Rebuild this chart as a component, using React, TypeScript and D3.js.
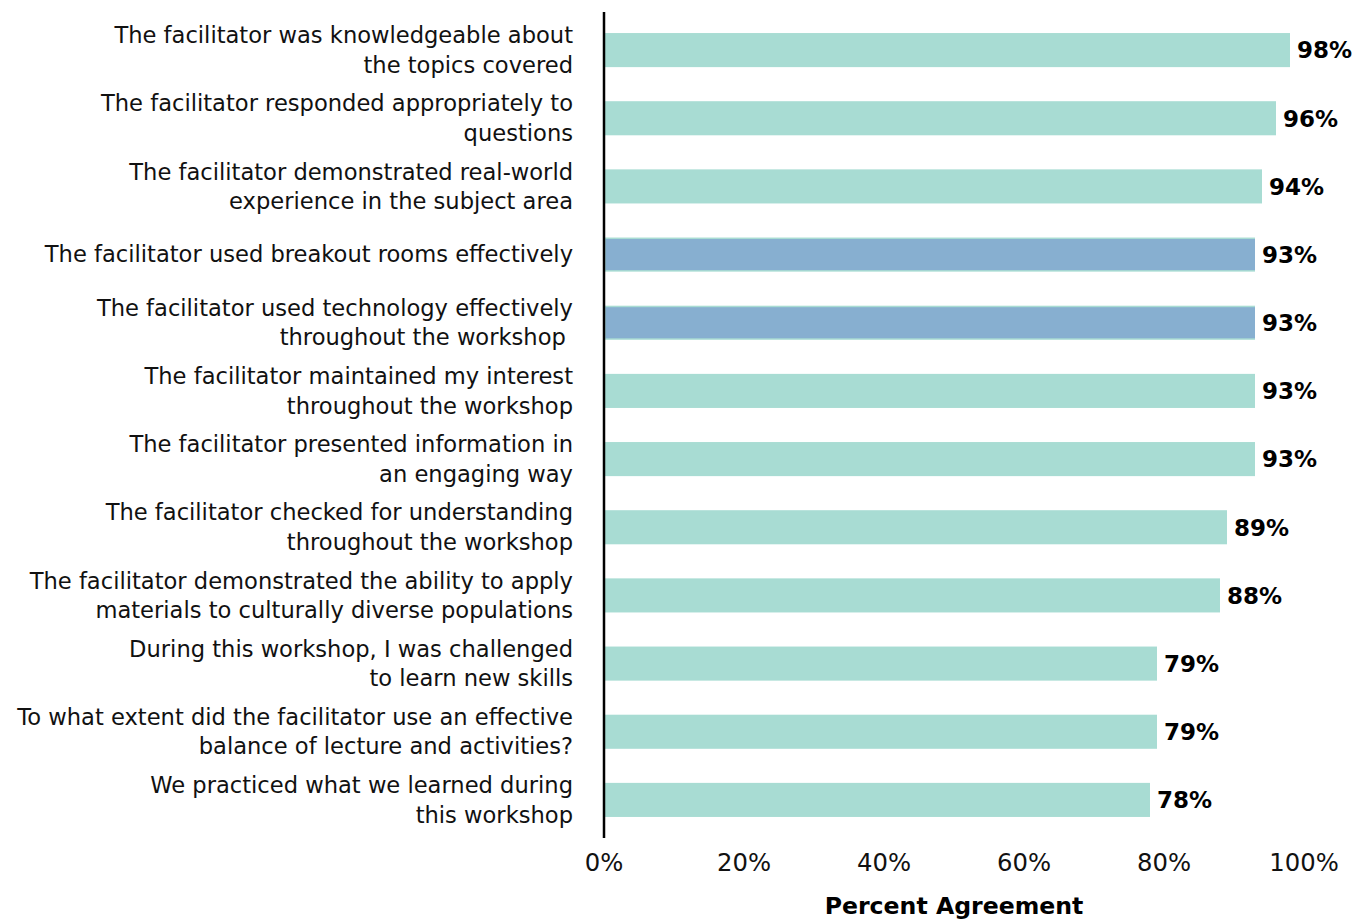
import React from "react";
import * as d3 from "d3";

const categories: string[][] = [
  ["The facilitator was knowledgeable about", "the topics covered"],
  ["The facilitator responded appropriately to", "questions"],
  ["The facilitator demonstrated real-world", "experience in the subject area"],
  ["The facilitator used breakout rooms effectively"],
  ["The facilitator used technology effectively", "throughout the workshop "],
  ["The facilitator maintained my interest", "throughout the workshop"],
  ["The facilitator presented information in", "an engaging way"],
  ["The facilitator checked for understanding", "throughout the workshop"],
  ["The facilitator demonstrated the ability to apply", "materials to culturally diverse populations"],
  ["During this workshop, I was challenged", "to learn new skills"],
  ["To what extent did the facilitator use an effective", "balance of lecture and activities?"],
  ["We practiced what we learned during", "this workshop"],
];
const values: number[] = [98, 96, 94, 93, 93, 93, 93, 89, 88, 79, 79, 78];
const highlighted: boolean[] = [false, false, false, true, true, false, false, false, false, false, false, false];
const xTicks: number[] = [0, 20, 40, 60, 80, 100];
const xTitle = "Percent Agreement";

const W = 1367;
const H = 919;
const FONT = "'DejaVu Sans', Verdana, sans-serif";

export default function App() {
  const x = d3.scaleLinear().domain([0, 100]).range([604, 1304]);
  const ids = categories.map((_, i) => String(i));
  const y = d3.scaleBand().domain(ids).range([16, 834]).paddingInner(0.5).paddingOuter(0.25);
  const bw = y.bandwidth();
  const lineH = 29.5;

  return (
    <svg width={W} height={H} style={{ position: "absolute", left: 0, top: 0, background: "#fff" }} fontFamily={FONT}>
      {values.map((v, i) => {
        const y0 = y(String(i))!;
        return (
          <g key={i}>
            <rect x={x(0)} y={y0} width={x(v) - x(0)} height={bw} fill="#a8dcd3" />
            {highlighted[i] && (
              <rect x={x(0) + 1.5} y={y0 + 1.5} width={x(v) - x(0) - 1.5} height={bw - 3} fill="#87afd0" />
            )}
            <text x={x(v) + 7} y={y0 + bw / 2} dy="0.36em" fontSize={23} fontWeight="bold" fill="#000">
              {v}%
            </text>
          </g>
        );
      })}
      {categories.map((lines, i) => {
        const c = y(String(i))! + bw / 2;
        const start = c - ((lines.length - 1) * lineH) / 2;
        return (
          <text key={i} textAnchor="end" fontSize={22.6} fill="#111" style={{ whiteSpace: "pre" }}>
            {lines.map((l, j) => (
              <tspan key={j} x={573} y={start + j * lineH} dy="0.35em">
                {l}
              </tspan>
            ))}
          </text>
        );
      })}
      <line x1={x(0)} x2={x(0)} y1={12} y2={838} stroke="#000" strokeWidth={2.5} />
      {xTicks.map((t) => (
        <text key={t} x={x(t)} y={862} dy="0.36em" textAnchor="middle" fontSize={24.3} fill="#111">
          {t}%
        </text>
      ))}
      <text x={(x(0) + x(100)) / 2} y={906} dy="0.36em" textAnchor="middle" fontSize={23.6} fontWeight="bold" fill="#000">
        {xTitle}
      </text>
    </svg>
  );
}
